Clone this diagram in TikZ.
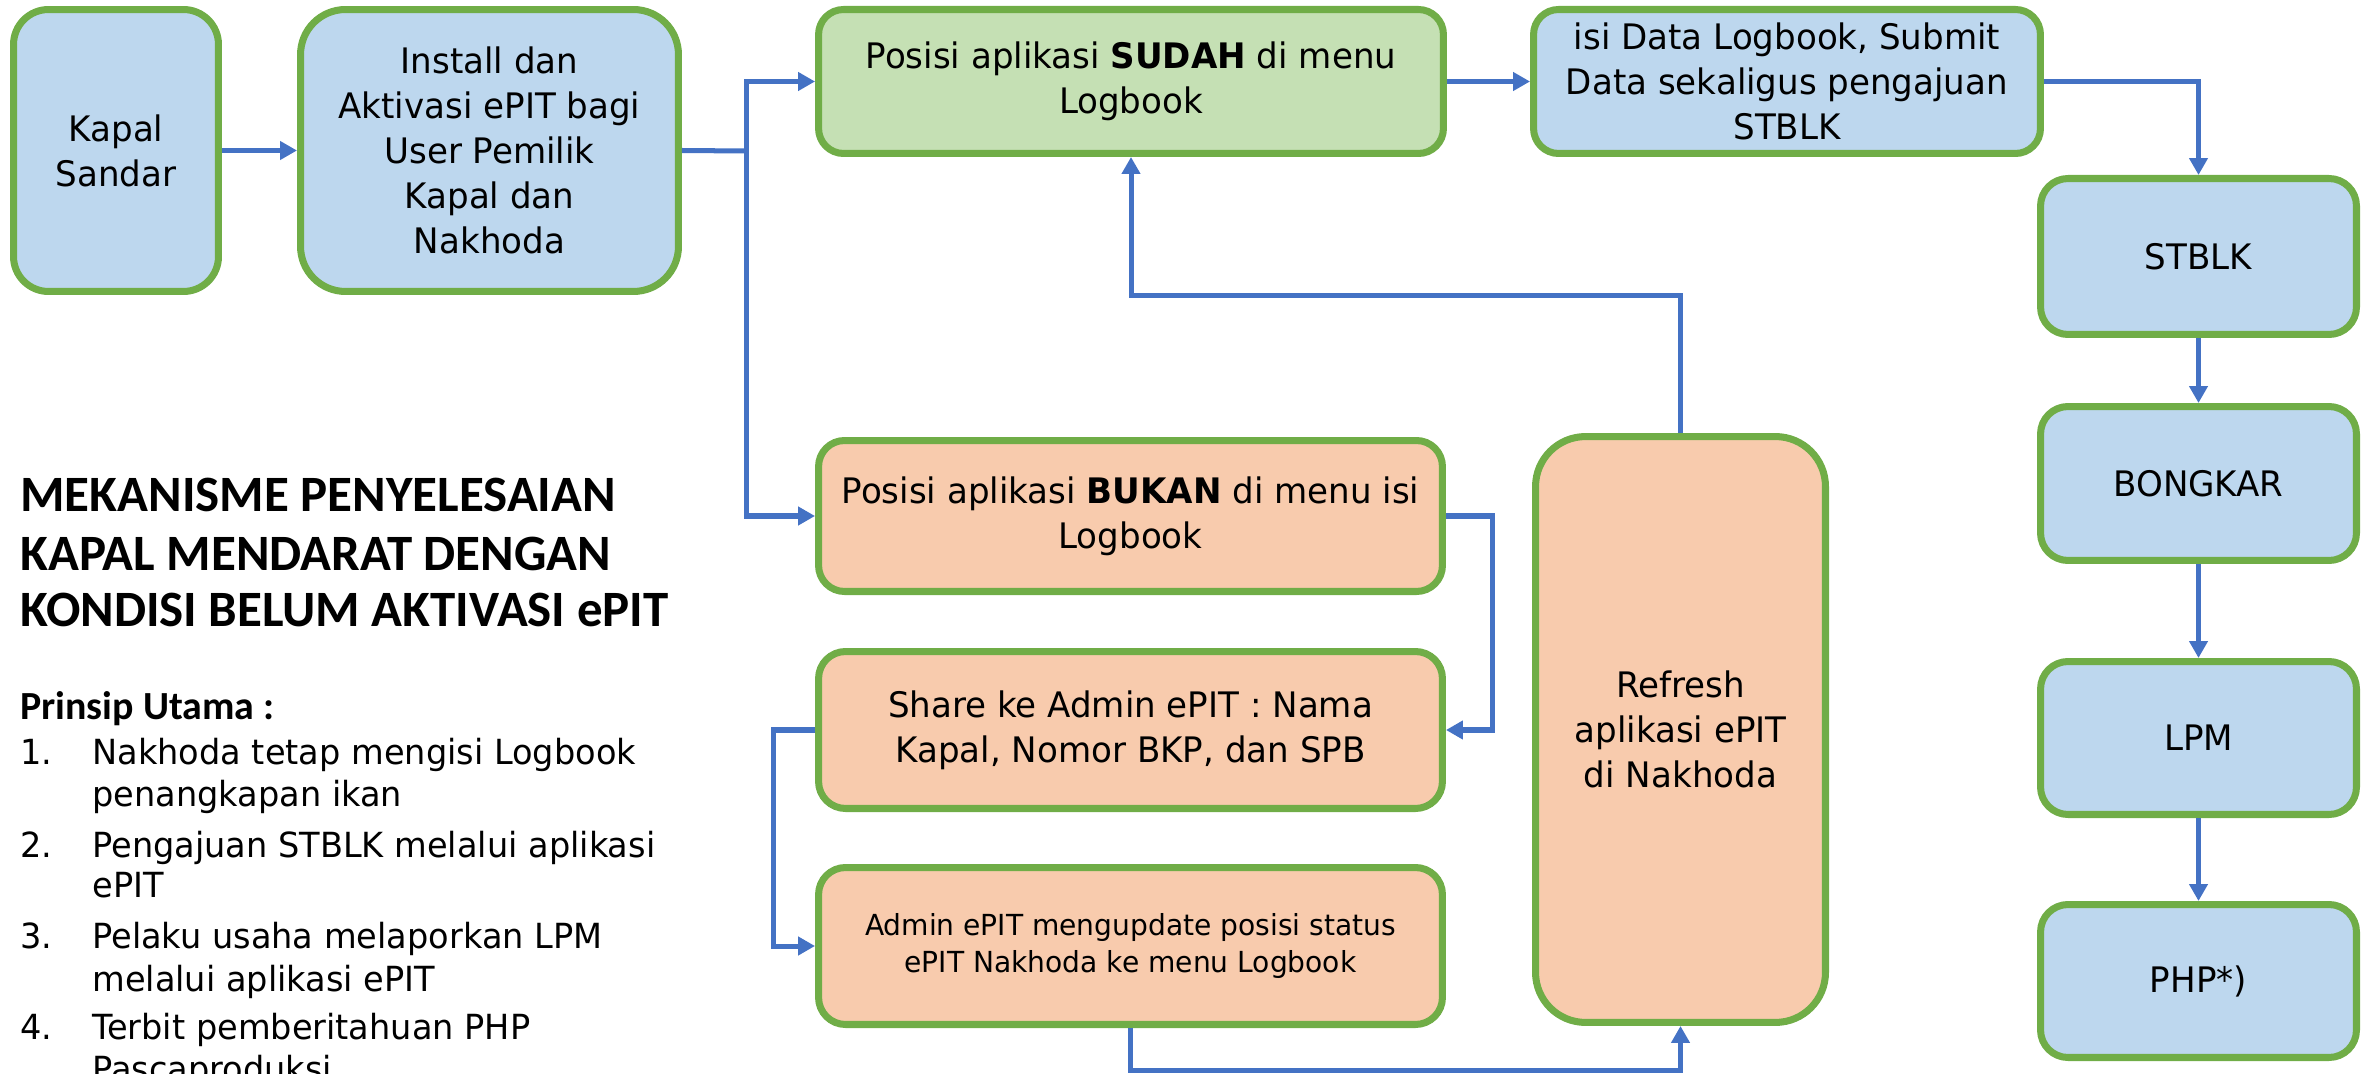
\documentclass[tikz,border=0pt]{standalone}
\usepackage{fontspec}
\setmainfont[FakeStretch=0.97]{DejaVu Sans}
\newfontfamily\judulfont{Carlito}
\usetikzlibrary{arrows.meta}

\definecolor{biru}{HTML}{BDD7EE}
\definecolor{hijau}{HTML}{C5E0B4}
\definecolor{oranye}{HTML}{F8CBAD}
\definecolor{tepi}{HTML}{70AD47}
\definecolor{panah}{HTML}{4472C4}

\tikzset{
  kotak/.style={draw=tepi, line width=4pt, align=center, inner sep=0pt,
    font=\fontsize{20}{25.6}\selectfont},
  garis/.style={draw=panah, line width=2.85pt},
  alur/.style={garis, -{Triangle[length=0.34cm,width=0.36cm]}},
  judul/.style={anchor=base west, inner sep=0pt,
    font=\judulfont\bfseries\fontsize{29}{32}\selectfont},
  daftar/.style={anchor=base west, inner sep=0pt,
    font=\fontsize{19.7}{24}\selectfont}
}

\begin{document}
\begin{tikzpicture}[
  x=0.02cm,
  y=-0.02cm
]
  \useasboundingbox (0,0) rectangle (2367,1074);

  % Baris atas
  \node[kotak, fill=biru, rounded corners=0.7cm,
    minimum width=4.1cm, minimum height=5.64cm] (kapal) at (116,150.5) {Kapal\\Sandar};
  \node[kotak, fill=biru, rounded corners=0.9cm,
    minimum width=7.56cm, minimum height=5.64cm] (install) at (489.5,150.5)
    {Install dan\\Aktivasi ePIT bagi\\User Pemilik\\Kapal dan\\Nakhoda};
  \node[kotak, fill=hijau, rounded corners=0.5cm,
    minimum width=12.5cm, minimum height=2.88cm] (sudah) at (1131,81.5)
    {Posisi aplikasi \textbf{SUDAH} di menu\\Logbook};
  \node[kotak, fill=biru, rounded corners=0.5cm,
    minimum width=10.14cm, minimum height=2.88cm] (isidata) at (1787,81.5)
    {isi Data Logbook, Submit\\Data sekaligus pengajuan\\STBLK};

  % Kolom kanan
  \node[kotak, fill=biru, rounded corners=0.55cm,
    minimum width=6.32cm, minimum height=3.12cm] (stblk) at (2198.5,256.5) {STBLK};
  \node[kotak, fill=biru, rounded corners=0.55cm,
    minimum width=6.32cm, minimum height=3.08cm] (bongkar) at (2198.5,483.5) {BONGKAR};
  \node[kotak, fill=biru, rounded corners=0.55cm,
    minimum width=6.32cm, minimum height=3.06cm] (lpm) at (2198.5,738) {LPM};
  \node[kotak, fill=biru, rounded corners=0.55cm,
    minimum width=6.32cm, minimum height=3.06cm] (php) at (2198.5,981) {PHP*)};

  % Jalur BUKAN
  \node[kotak, fill=oranye, rounded corners=0.52cm,
    minimum width=12.48cm, minimum height=3.02cm] (bukan) at (1130.5,516)
    {Posisi aplikasi \textbf{BUKAN} di menu isi\\Logbook};
  \node[kotak, fill=oranye, rounded corners=0.54cm,
    minimum width=12.48cm, minimum height=3.14cm] (share) at (1130.5,730)
    {Share ke Admin ePIT : Nama\\Kapal, Nomor BKP, dan SPB};
  \node[kotak, fill=oranye, rounded corners=0.54cm,
    minimum width=12.48cm, minimum height=3.14cm,
    font=\fontsize{16.5}{21.3}\selectfont] (admin) at (1130.5,946)
    {Admin ePIT mengupdate posisi status\\ePIT Nakhoda ke menu Logbook};
  \node[kotak, fill=oranye, rounded corners=1cm,
    minimum width=5.8cm, minimum height=11.72cm] (refresh) at (1680.5,729.5)
    {Refresh\\aplikasi ePIT\\di Nakhoda};

  % Panah
  \coordinate (cabang) at (746,151);
  \draw[alur] (kapal.east) -- (install.west);
  \draw[garis] (install.east) -- (cabang);
  \draw[alur] (cabang) |- (sudah.west);
  \draw[alur] (cabang) |- (bukan.west);
  \draw[alur] (sudah.east) -- (isidata.west);
  \draw[alur] (isidata.east) -| (stblk.north);
  \draw[alur] (stblk) -- (bongkar);
  \draw[alur] (bongkar) -- (lpm);
  \draw[alur] (lpm) -- (php);
  \draw[alur] (bukan.east) -- ++(47,0) |- (share.east);
  \draw[alur] (share.west) -- ++(-42,0) |- (admin.west);
  \draw[alur] (admin.south) -- ++(0,42) -| (refresh.south);
  \draw[alur] (refresh.north) -- ++(0,-138) -| (sudah.south);

  % Judul
  \node[judul] (judul1) at (20,511) {MEKANISME PENYELESAIAN};
  \node[judul] (judul2) at (20,570) {KAPAL MENDARAT DENGAN};
  \node[judul] (judul3) at (20,626) {KONDISI BELUM AKTIVASI ePIT};
  \node[judul, font=\judulfont\bfseries\fontsize{22.7}{26}\selectfont] (prinsip) at (20,719) {Prinsip Utama :};

  % Daftar prinsip
  \foreach \yy/\n [count=\k] in {764/1., 857/2., 948/3., 1039/4.}
    \node[daftar] (no\k) at (20,\yy) {\n};
  \foreach \yy/\txt [count=\i] in {764/Nakhoda tetap mengisi Logbook,
      806/penangkapan ikan, 857/Pengajuan STBLK melalui aplikasi, 897/ePIT,
      948/Pelaku usaha melaporkan LPM, 991/melalui aplikasi ePIT,
      1039/Terbit pemberitahuan PHP, 1081/Pascaproduksi}
    \node[daftar] (baris\i) at (92,\yy) {\txt};
\end{tikzpicture}
\end{document}
